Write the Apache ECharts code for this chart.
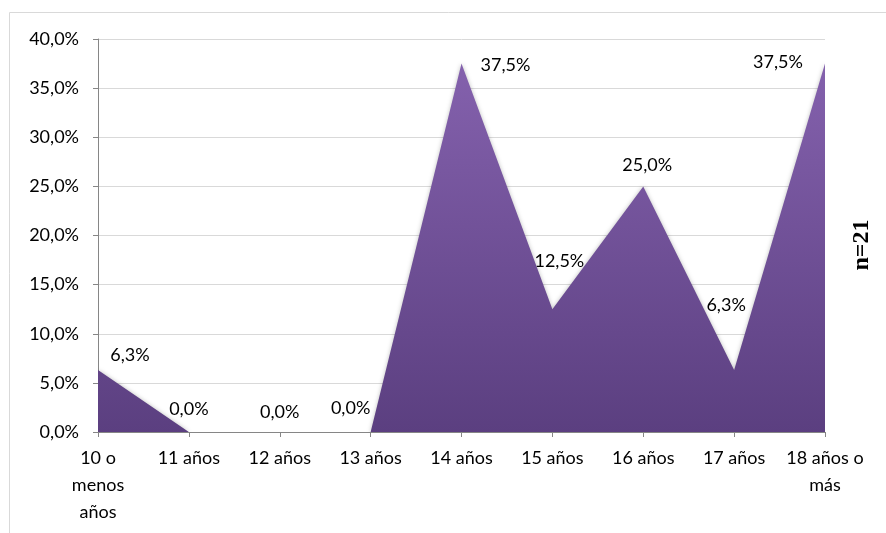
<!DOCTYPE html>
<html>
<head>
<meta charset="utf-8">
<script src="https://cdn.jsdelivr.net/npm/echarts@6/dist/echarts.min.js"></script>
<style>
  html, body { margin: 0; padding: 0; background: #fff; }
  #chart { width: 886px; height: 533px; }
</style>
</head>
<body>
<div id="chart"></div>
<script>
var categories = ['10 o\nmenos\naños', '11 años', '12 años', '13 años', '14 años', '15 años', '16 años', '17 años', '18 años o\nmás'];
var values = [6.3, 0.0, 0.0, 0.0, 37.5, 12.5, 25.0, 6.3, 37.5];
var sampleNote = 'n=21';

// where each data label sits relative to its point (Excel puts them a bit all over)
var labelOffsets = [[32, 0], [0, -8], [0, -5], [-20, -9], [44, 16], [7, -34], [4, -7], [-8, -50], [-47, 13]];

function pct(v) {
    return v.toFixed(1).replace('.', ',') + '%';
}

var myChart = echarts.init(document.getElementById('chart'));

var option = {
    animation: false,
    textStyle: { fontFamily: 'Lato' },
    grid: { left: 98, right: 61, top: 39, bottom: 101 },
    graphic: [
        {
            type: 'rect',
            left: 7, top: 10,
            shape: { width: 900, height: 600 },
            style: { fill: 'none', stroke: '#d9d9d9', lineWidth: 1 }
        },
        {
            type: 'text',
            x: 862, y: 245,
            rotation: Math.PI / 2,
            style: {
                text: sampleNote,
                font: 'bold 24px "Liberation Serif"',
                fill: '#000',
                align: 'center',
                verticalAlign: 'middle'
            }
        }
    ],
    xAxis: {
        type: 'category',
        data: categories,
        boundaryGap: false,
        axisLine: { lineStyle: { color: '#868686', width: 1 } },
        axisTick: { show: true, length: 5, alignWithLabel: true, lineStyle: { color: '#868686' } },
        axisLabel: {
            color: '#000',
            fontSize: 18,
            lineHeight: 27,
            margin: 13,
            interval: 0
        },
        splitLine: { show: false }
    },
    yAxis: {
        type: 'value',
        min: 0,
        max: 40,
        interval: 5,
        axisLine: { show: true, lineStyle: { color: '#868686', width: 1 } },
        axisTick: { show: true, length: 5, lineStyle: { color: '#868686' } },
        axisLabel: {
            color: '#000',
            fontSize: 18,
            margin: 19,
            formatter: function (v) { return pct(v); }
        },
        splitLine: { lineStyle: { color: '#d9d9d9', width: 1 } }
    },
    series: [{
        type: 'line',
        data: values.map(function (v, i) {
            return {
                value: v,
                label: { offset: labelOffsets[i] }
            };
        }),
        symbol: 'circle',
        symbolSize: 1,
        showSymbol: true,
        itemStyle: { color: 'rgba(0,0,0,0)' },
        lineStyle: { width: 0 },
        areaStyle: {
            opacity: 1,
            color: new echarts.graphic.LinearGradient(0, 0, 0, 1, [
                { offset: 0, color: '#8461ad' },
                { offset: 1, color: '#5b3f80' }
            ]),
            shadowColor: 'rgba(0,0,0,0.25)',
            shadowBlur: 4
        },
        label: {
            show: true,
            position: 'top',
            distance: 5,
            color: '#000',
            fontSize: 18,
            formatter: function (p) { return pct(p.value); }
        }
    }]
};

option && myChart.setOption(option);
</script>
</body>
</html>
